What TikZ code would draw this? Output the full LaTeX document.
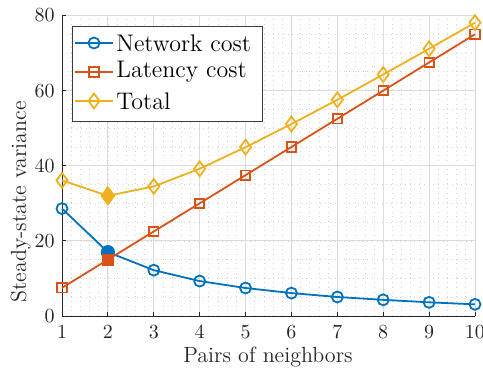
\documentclass[tikz,border=0pt]{standalone}
\usetikzlibrary{plotmarks}
\definecolor{netblue}{rgb}{0,0.447,0.741}
\definecolor{latorange}{rgb}{0.85,0.325,0.098}
\definecolor{totyellow}{rgb}{0.929,0.694,0.125}
\definecolor{axisgray}{rgb}{0.15,0.15,0.15}

\begin{document}
\begin{tikzpicture}[
  x=0.5pt,y=0.5pt,
  ticklab/.style={font=\fontsize{10}{12}\selectfont,text=axisgray,inner sep=0pt},
  axlab/.style={font=\fontsize{11}{13}\selectfont,text=axisgray,inner sep=0pt},
  leglab/.style={font=\fontsize{12}{14}\selectfont,text=black,anchor=west,inner sep=0pt},
  majgrid/.style={black!14,line width=.4pt},
  mingrid/.style={black!17,dash pattern=on .45pt off 1.9pt,line width=.35pt},
  axline/.style={axisgray,line width=.45pt},
  netline/.style={netblue,line width=.9pt},
  latline/.style={latorange,line width=.9pt},
  totline/.style={totyellow,line width=.9pt},
  netmark/.style={mark=o,mark size=2.75pt,mark options={solid}},
  latmark/.style={mark=square,mark size=2.35pt,mark options={solid}},
  totmark/.style={mark=diamond,mark size=3.7pt,mark options={solid}}
]
\useasboundingbox (0,0) rectangle (483,368);

% Data area: pairs 1..10, variance 0..80.
\begin{scope}[shift={(8.056pt,26pt)},x=22.944pt,y=1.878pt]
  % Minor grid.
  \foreach \xx in {1.2,1.4,...,9.9}
    \draw[mingrid] (\xx,0)--(\xx,80);
  \foreach \yy in {5,10,...,75}
    \draw[mingrid] (1,\yy)--(10,\yy);
  % Major grid.
  \foreach \xx in {2,...,10}
    \draw[majgrid] (\xx,0)--(\xx,80);
  \foreach \yy in {20,40,...,80}
    \draw[majgrid] (1,\yy)--(10,\yy);

  % Axes and ticks.
  \draw[axline] (1,80)--(1,0)--(10,0);
  \foreach \xx in {1,...,10}{
    \draw[axline] (\xx,0)--++(0,2pt);
    \node[ticklab,anchor=north,yshift=-4.5pt] (xt\xx) at (\xx,0) {\xx};
  }
  \foreach \yy in {0,20,...,80}{
    \draw[axline] (1,\yy)--++(2pt,0);
    \node[ticklab,anchor=east,xshift=-3.5pt] (yt\yy) at (1,\yy) {\yy};
  }

  % Curves.
  \draw[netline] plot[netmark] coordinates {(1,28.6) (2,17.0) (3,12.2) (4,9.3)
    (5,7.45) (6,6.1) (7,5.06) (8,4.3) (9,3.64) (10,3.1)};
  \draw[latline] plot[latmark] coordinates {(1,7.5) (2,15) (3,22.5) (4,30)
    (5,37.5) (6,45) (7,52.5) (8,60) (9,67.5) (10,75)};
  \draw[totline] plot[totmark] coordinates {(1,36.1) (2,32.0) (3,34.5) (4,39.2)
    (5,44.95) (6,51.1) (7,57.56) (8,64.3) (9,71.14) (10,78.1)};

  % Optimum at two pairs.
  \path[netline,fill=netblue] plot[mark=*,mark size=3.1pt] coordinates {(2,17.0)};
  \path[latline,fill=latorange] plot[mark=square*,mark size=2.5pt] coordinates {(2,15)};
  \path[totline,fill=totyellow] plot[mark=diamond*,mark size=4.2pt] coordinates {(2,32.0)};
\end{scope}

% Axis labels.
\node[axlab,anchor=base] (xlab) at (268,5) {Pairs of neighbors};
\node[axlab,anchor=base,rotate=90] (ylab) at (26,166) {Steady-state variance};

% Legend.
\draw[axisgray!90,fill=white,line width=.45pt] (72,247) rectangle (262,342);
\draw[netline] (75,325)--(113,325);
\path[netline] plot[netmark] coordinates {(94,325)};
\node[leglab] (lnet) at (116,325) {Network cost};
\draw[latline] (75,296)--(113,296);
\path[latline] plot[latmark] coordinates {(94,296)};
\node[leglab] (llat) at (116,296) {Latency cost};
\draw[totline] (75,267)--(113,267);
\path[totline] plot[totmark] coordinates {(94,267)};
\node[leglab] (ltot) at (116,267) {Total};

\end{tikzpicture}
\end{document}
